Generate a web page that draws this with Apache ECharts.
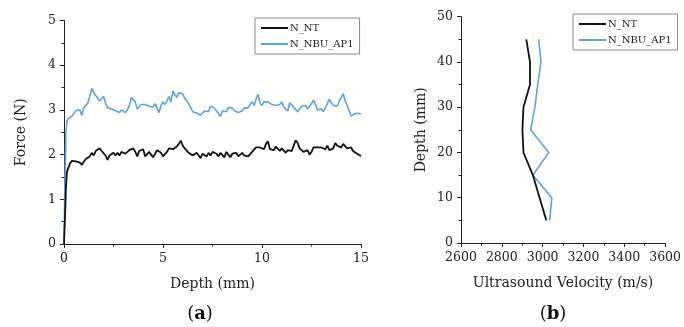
<!DOCTYPE html>
<html>
<head>
<meta charset="utf-8">
<script src="https://cdn.jsdelivr.net/npm/echarts@6/dist/echarts.min.js"></script>
<style>html,body{margin:0;padding:0;background:#fff;}#c{width:684px;height:327px;}</style>
</head>
<body>
<div id="c"></div>
<script>
var depthA = [0,0.05,0.1,0.15,0.2,0.3,0.4,0.5,0.6,0.7,0.8,0.9,1.0,1.1,1.2,1.3,1.4,1.5,1.6,1.7,1.8,1.9,2.0,2.1,2.2,2.3,2.4,2.5,2.6,2.7,2.8,2.9,3.0,3.1,3.2,3.3,3.4,3.5,3.6,3.7,3.8,3.9,4.0,4.1,4.2,4.3,4.4,4.5,4.6,4.7,4.8,4.9,5.0,5.1,5.2,5.3,5.4,5.5,5.6,5.7,5.8,5.9,6.0,6.1,6.2,6.3,6.4,6.5,6.6,6.7,6.8,6.9,7.0,7.1,7.2,7.3,7.4,7.5,7.6,7.7,7.8,7.9,8.0,8.1,8.2,8.3,8.4,8.5,8.6,8.7,8.8,8.9,9.0,9.1,9.2,9.3,9.4,9.5,9.6,9.7,9.8,9.9,10.0,10.1,10.2,10.3,10.4,10.5,10.6,10.7,10.8,10.9,11.0,11.1,11.2,11.3,11.4,11.5,11.6,11.7,11.8,11.9,12.0,12.1,12.2,12.3,12.4,12.5,12.6,12.7,12.8,12.9,13.0,13.1,13.2,13.3,13.4,13.5,13.6,13.7,13.8,13.9,14.0,14.1,14.2,14.3,14.4,14.5,14.6,14.7,14.8,14.9,15.0];
var forceNT = [0,0.6,1.3,1.62,1.66,1.80,1.86,1.88,1.85,1.86,1.82,1.77,1.84,1.90,1.86,1.96,2.04,1.98,2.08,2.10,2.14,2.08,2.12,1.98,1.88,1.98,1.94,2.04,1.98,2.04,1.98,2.06,2.10,2.02,2.06,2.10,2.08,2.14,2.06,1.96,2.08,2.04,2.12,1.96,1.92,2.06,2.00,1.94,2.02,2.10,2.06,2.04,1.96,1.94,2.06,2.14,2.10,2.12,2.08,2.18,2.24,2.31,2.20,2.14,2.10,2.04,2.08,1.98,1.94,2.04,2.00,1.92,2.02,2.06,1.96,2.04,1.98,2.06,2.10,2.02,1.96,2.04,2.00,1.94,2.06,2.00,1.94,2.02,1.98,2.04,1.96,1.98,2.04,1.98,2.00,1.96,1.94,2.06,2.10,2.16,2.12,2.16,2.18,2.12,2.24,2.30,2.12,2.16,2.10,2.18,2.14,2.08,2.14,2.12,2.04,2.10,2.06,2.08,2.20,2.32,2.26,2.14,2.10,2.06,2.04,2.10,2.00,2.06,2.16,2.18,2.16,2.18,2.16,2.14,2.12,2.20,2.10,2.06,2.14,2.26,2.20,2.22,2.16,2.24,2.20,2.14,2.10,2.16,2.08,2.10,2.02,2.00,1.97];
var forceNBU = [0,1.5,2.5,2.75,2.80,2.82,2.86,2.92,2.98,3.02,3.00,2.88,3.05,3.08,3.15,3.30,3.48,3.40,3.32,3.26,3.20,3.18,3.30,3.15,3.05,3.06,3.02,3.04,2.98,2.96,2.94,3.00,2.96,2.94,3.00,3.10,3.28,3.32,3.18,3.02,3.05,3.12,3.16,3.12,3.10,3.08,3.12,3.06,3.14,3.04,2.94,3.10,3.18,3.12,3.20,3.30,3.18,3.42,3.34,3.28,3.38,3.41,3.36,3.26,3.20,3.14,3.05,2.96,2.98,2.93,2.92,2.88,2.85,2.98,3.02,2.96,3.08,3.10,3.04,3.02,2.92,2.85,2.98,3.02,2.96,3.06,3.10,3.04,2.98,3.00,2.94,2.92,2.98,3.04,3.08,3.05,3.12,3.18,3.10,3.24,3.35,3.15,3.10,3.18,3.22,3.18,3.14,3.12,3.16,3.10,3.14,3.12,3.18,3.06,3.10,2.98,3.16,3.18,3.06,3.02,2.96,3.00,3.08,3.04,3.10,3.02,3.08,3.14,3.22,3.12,3.00,2.98,3.02,2.96,2.94,3.14,3.24,3.16,3.10,3.12,3.08,3.20,3.28,3.36,3.20,3.10,2.98,2.86,2.90,2.92,2.88,2.92,2.90];

var depthB = [5,10,15,20,25,30,35,40,45];
var velNT = [3018,2985,2952,2906,2901,2906,2938,2938,2920];
var velNBU = [3034,3045,2952,3030,2941,2962,2976,2992,2981];

var BLUE = '#5ba3e0';
var FONT = 'DejaVu Serif';
function pairs(xs, ys){ return xs.map(function(x,i){ return [x, ys[i]]; }); }

function axisCommon(){
  return {
    axisLine:{show:true,lineStyle:{color:'#222',width:1}},
    axisTick:{show:true,inside:false,length:4,lineStyle:{color:'#222'}},
    minorTick:{show:true,splitNumber:2,length:2.5,lineStyle:{color:'#222'}},
    splitLine:{show:false},
    minorSplitLine:{show:false},
    axisLabel:{color:'#222',fontFamily:FONT,fontSize:12.5,margin:8,formatter:function(v){return String(v);}},
    nameTextStyle:{color:'#222',fontFamily:FONT,fontSize:14}
  };
}
function ax(extra){ var o = axisCommon(); for (var k in extra) o[k]=extra[k]; return o; }

var chart = echarts.init(document.getElementById('c'), null, {renderer:'canvas'});
chart.setOption({
  backgroundColor:'#fff',
  animation:false,
  title:[
    {text:'{p|(}{b|a}{p|)}', left:195, top:300, textAlign:'center',
     textStyle:{fontWeight:'normal',rich:{p:{fontFamily:FONT,fontSize:18,fontWeight:'normal',color:'#111'},b:{fontFamily:FONT,fontSize:18,fontWeight:'bold',color:'#111'}}}},
    {text:'{p|(}{b|b}{p|)}', left:548, top:300, textAlign:'center',
     textStyle:{fontWeight:'normal',rich:{p:{fontFamily:FONT,fontSize:18,fontWeight:'normal',color:'#111'},b:{fontFamily:FONT,fontSize:18,fontWeight:'bold',color:'#111'}}}}
  ],
  legend:[
    {left:255, top:18, orient:'vertical', data:['N_NT','N_NBU_AP1'], icon:'rect', itemWidth:27, itemHeight:2, itemGap:6,
     padding:[5,6,5,6], borderColor:'#888', borderWidth:1, textStyle:{fontFamily:FONT,fontSize:10,color:'#222',padding:[0,0,0,-3]}},
    {left:573, top:14, orient:'vertical', data:['N_NT','N_NBU_AP1'], icon:'rect', itemWidth:27, itemHeight:2, itemGap:6,
     padding:[5,6,5,6], borderColor:'#888', borderWidth:1, textStyle:{fontFamily:FONT,fontSize:10,color:'#222',padding:[0,0,0,-3]}}
  ],
  grid:[
    {left:64, top:20.5, width:297, height:223.5, containLabel:false},
    {left:461, top:16.7, width:208, height:226.3, containLabel:false}
  ],
  xAxis:[
    ax({type:'value', gridIndex:0, min:0, max:15, interval:5, name:'Depth (mm)', nameLocation:'middle', nameGap:33}),
    ax({type:'value', gridIndex:1, min:2600, max:3600, interval:200, name:'Ultrasound Velocity (m/s)', nameLocation:'middle', nameGap:33})
  ],
  yAxis:[
    ax({type:'value', gridIndex:0, min:0, max:5, interval:1, name:'Force (N)', nameLocation:'middle', nameGap:36}),
    ax({type:'value', gridIndex:1, min:0, max:50, interval:10, name:'Depth (mm)', nameLocation:'middle', nameGap:33})
  ],
  series:[
    {name:'N_NBU_AP1', type:'line', xAxisIndex:0, yAxisIndex:0, data:pairs(depthA, forceNBU), showSymbol:false, symbol:'none',
     lineStyle:{color:BLUE,width:1.6}, itemStyle:{color:BLUE}, z:2},
    {name:'N_NT', type:'line', xAxisIndex:0, yAxisIndex:0, data:pairs(depthA, forceNT), showSymbol:false, symbol:'none',
     lineStyle:{color:'#111',width:1.8}, itemStyle:{color:'#111'}, z:3},
    {name:'N_NBU_AP1', type:'line', xAxisIndex:1, yAxisIndex:1, data:pairs(velNBU, depthB), showSymbol:false, symbol:'none',
     lineStyle:{color:BLUE,width:1.6}, itemStyle:{color:BLUE}, z:2},
    {name:'N_NT', type:'line', xAxisIndex:1, yAxisIndex:1, data:pairs(velNT, depthB), showSymbol:false, symbol:'none',
     lineStyle:{color:'#111',width:1.8}, itemStyle:{color:'#111'}, z:3}
  ]
});
</script>
</body>
</html>
